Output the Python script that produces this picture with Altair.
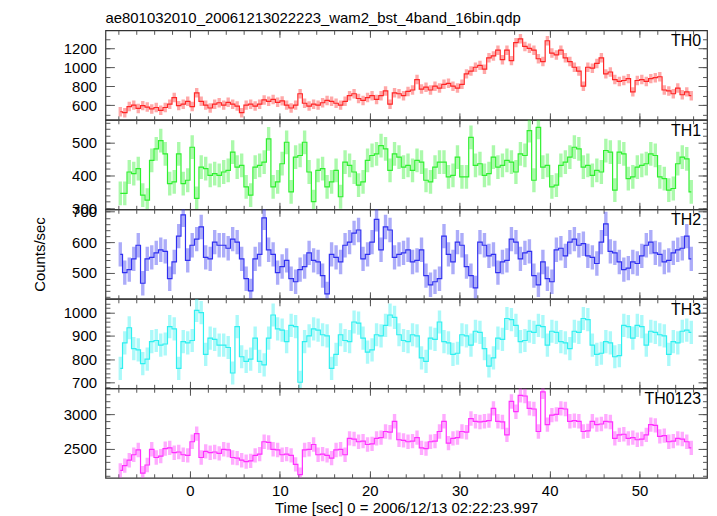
import altair as alt
import pandas as pd
import numpy as np

T0 = -7.75
DT = 0.5

th0 = [530,520,585,600,565,595,580,560,575,545,
       575,610,680,595,610,640,585,730,640,600,
       570,610,625,600,630,610,590,520,600,610,
       590,610,655,640,660,630,645,600,570,600,
       720,620,590,610,600,625,650,640,620,600,
       640,700,720,670,650,680,700,660,700,750,
       610,730,720,700,745,760,870,770,790,760,
       800,780,820,830,800,780,820,930,960,1000,
       1020,980,1100,1120,1180,1080,1180,1070,1260,1300,
       1220,1200,1180,1090,1060,1280,1150,1130,1180,1100,
       1060,1000,960,800,1000,990,1040,1100,930,950,
       870,850,860,880,740,860,870,850,880,890,
       900,760,750,720,780,710,740,700]

th1 = [345,345,410,405,420,340,325,445,480,505,
       465,375,380,465,375,385,485,330,425,420,
       400,405,400,410,415,470,425,430,365,340,
       425,430,440,510,365,380,435,500,350,455,
       460,500,410,320,415,420,365,380,415,335,
       440,430,410,370,380,445,460,465,490,480,
       415,465,455,425,430,415,445,440,385,380,
       425,440,440,395,400,455,395,395,515,430,
       435,400,405,455,425,430,445,440,410,465,
       460,535,385,545,425,430,365,370,430,440,
       455,485,480,425,430,400,415,410,475,470,
       355,470,465,390,395,425,430,435,465,460,
       395,390,355,360,435,455,450,350]

th2 = [560,500,510,545,590,465,545,550,565,575,
       570,480,535,620,690,540,590,610,650,550,
       545,600,590,590,580,610,600,545,480,440,
       545,560,680,575,560,500,520,540,480,470,
       510,520,565,540,535,490,430,560,550,535,
       590,600,630,640,545,560,600,675,575,650,
       640,550,560,565,575,535,540,575,490,460,
       470,480,620,560,535,600,590,520,490,450,
       600,590,555,560,500,535,540,610,600,545,
       565,570,490,460,535,480,470,575,580,555,
       600,610,590,595,555,550,530,600,660,570,
       565,535,510,515,535,530,555,590,600,565,
       560,535,540,565,575,580,620,545]

th3 = [760,870,935,845,840,780,800,875,880,860,
       865,940,930,760,875,870,880,1010,1000,820,
       890,885,860,860,850,740,940,810,790,800,
       890,790,775,890,990,930,925,875,945,940,
       700,875,900,930,925,905,900,760,820,905,
       880,875,960,955,890,830,840,905,900,945,
       990,980,905,880,875,905,900,805,790,890,
       885,960,875,870,820,825,905,900,860,920,
       915,845,770,805,890,885,975,970,945,875,
       880,920,915,945,940,860,920,915,875,870,
       845,920,915,975,970,860,820,825,875,870,
       810,815,945,940,890,945,940,860,920,915,
       905,900,820,875,870,920,925,915]

th0123 = [2180,2250,2330,2410,2480,2140,2260,2490,2370,2390,
          2500,2510,2440,2450,2410,2400,2600,2720,2370,2460,
          2440,2450,2430,2490,2480,2370,2360,2330,2310,2320,
          2400,2420,2600,2590,2490,2480,2410,2420,2400,2270,
          2120,2480,2490,2560,2410,2420,2400,2360,2480,2490,
          2410,2650,2640,2600,2610,2560,2570,2650,2660,2750,
          2740,2900,2630,2620,2600,2610,2660,2510,2500,2600,
          2610,2750,2900,2580,2650,2660,2750,2740,2940,2900,
          2890,2900,2910,3090,2900,2890,2700,3190,3040,3280,
          3270,3090,3080,2750,3330,2850,2990,3000,3090,3080,
          2900,2910,2900,2750,2760,2900,2850,2860,2900,2890,
          2650,2700,2710,2650,2660,2630,2640,2700,2850,2840,
          2680,2690,2600,2610,2650,2640,2600,2510]

names = ["TH0", "TH1", "TH2", "TH3", "TH0123"]
series = [th0, th1, th2, th3, th0123]
errs = [50, 36, 40, 50, 105]
colors = ["#ff2525", "#2ef02e", "#2f2ff0", "#2ef0f0", "#ff2eff"]
ydoms = [[445, 1390], [297, 568], [414, 708], [674, 1060], [2073, 3383]]
ymajor = [[600, 800, 1000, 1200], [300, 400, 500], [500, 600, 700],
          [700, 800, 900, 1000], [2500, 3000]]
yminor = [list(range(500, 1400, 100)), list(range(300, 568, 20)),
          list(range(420, 708, 20)), list(range(680, 1060, 20)),
          list(range(2100, 3383, 100))]
xdom = [-9.4, 57.5]
xmajor = [0, 10, 20, 30, 40, 50]
xminor = list(range(-8, 57, 2))

title_text = "ae801032010_20061213022223_wam2_bst_4band_16bin.qdp"
xtitle = "Time [sec] 0 = 2006/12/13 02:22:23.997"
ytitle = "Counts/sec"

FONT = "Liberation Sans"
W, H = 605, 90
TICKC = "#555555"


def ax(orient, values, size, **kw):
    return alt.Axis(orient=orient, values=values, tickSize=size, offset=-size,
                    domain=False, grid=False, tickColor=TICKC, tickWidth=1,
                    format="d", **kw)


panels = []
for k in range(5):
    vals = series[k]
    n = len(vals)
    t = T0 + DT * np.arange(n)
    v = np.array(vals, dtype=float)
    df = pd.DataFrame({"t": t, "v": v, "lo": v - errs[k], "hi": v + errs[k]})
    xs = alt.Scale(domain=xdom, nice=False, zero=False)
    ys = alt.Scale(domain=ydoms[k], nice=False, zero=False)
    last = k == 4

    if last:
        xb = ax("bottom", xmajor, 7, labels=True, labelFontSize=15, labelFont=FONT,
                labelColor="black", labelPadding=6, title=xtitle, titleFontSize=15,
                titleFont=FONT, titleFontWeight="normal", titleColor="black",
                titlePadding=2)
    else:
        xb = ax("bottom", xmajor, 7, labels=False, title=None)

    if k == 2:
        yl = ax("left", ymajor[k], 9, labels=True, labelFontSize=15, labelFont=FONT,
                labelColor="black", labelPadding=9, title=ytitle, titleFontSize=15,
                titleFont=FONT, titleFontWeight="normal", titleColor="black",
                titlePadding=24)
    else:
        yl = ax("left", ymajor[k], 9, labels=True, labelFontSize=15, labelFont=FONT,
                labelColor="black", labelPadding=9, title=None)

    base = alt.Chart(df)
    err = base.mark_rule(color=colors[k], opacity=0.4, strokeWidth=3.4, clip=True).encode(
        x=alt.X("t:Q", scale=xs, axis=xb),
        y=alt.Y("lo:Q", scale=ys, axis=yl),
        y2="hi:Q",
    )
    line = base.mark_line(interpolate="step", color=colors[k], strokeWidth=1.2, clip=True).encode(
        x=alt.X("t:Q", scale=xs, axis=ax("bottom", xminor, 4, labels=False, title=None)),
        y=alt.Y("v:Q", scale=ys, axis=ax("left", yminor[k], 4.5, labels=False, title=None)),
    )
    d1 = base.mark_point(opacity=0, size=1).encode(
        x=alt.X("t:Q", scale=xs, axis=ax("top", xmajor, 7, labels=False, title=None)),
        y=alt.Y("v:Q", scale=ys, axis=ax("right", ymajor[k], 9, labels=False, title=None)),
    )
    d2 = base.mark_point(opacity=0, size=1).encode(
        x=alt.X("t:Q", scale=xs, axis=ax("top", xminor, 4, labels=False, title=None)),
        y=alt.Y("v:Q", scale=ys, axis=ax("right", yminor[k], 4.5, labels=False, title=None)),
    )
    lab = alt.Chart(pd.DataFrame({"name": [names[k]]})).mark_text(
        align="right", baseline="top", font=FONT, fontSize=16, color="black"
    ).encode(text="name:N", x=alt.value(W - 6), y=alt.value(3))

    layer = alt.layer(err, line, d1, d2, lab).resolve_axis(
        x="independent", y="independent").properties(width=W, height=H)
    if k == 0:
        layer = layer.properties(title=alt.TitleParams(
            text=title_text, anchor="start", frame="group", font=FONT, fontSize=15,
            fontWeight="normal", color="black", offset=4))
    panels.append(layer)

chart = alt.vconcat(*panels, spacing=0, bounds="flush").configure_view(
    stroke="#333333", strokeWidth=1.2
).properties(padding={"left": 24, "top": 0, "right": 0, "bottom": 0}, background="white")

chart.save("out.html", embed_options={"renderer": "svg", "actions": False})
